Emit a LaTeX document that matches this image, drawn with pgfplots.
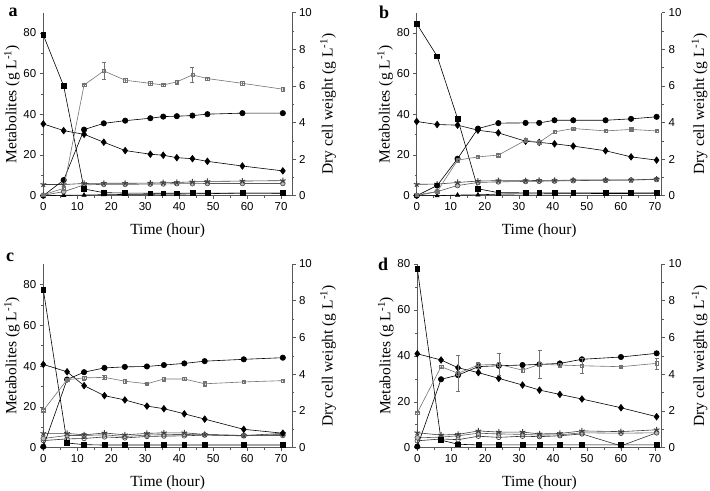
\documentclass[border=0pt]{standalone}
\usepackage{pgfplots}
\pgfplotsset{compat=1.18}
\usepackage{fontspec}
\setmainfont{Liberation Serif}
\newfontfamily\arialf{Liberation Sans}
\definecolor{ax}{gray}{0.35}
\definecolor{dc}{gray}{0.45}
\tikzset{pl/.style={font=\bfseries\fontsize{18bp}{18bp}\selectfont}}
\pgfplotsset{
 base/.style={scale only axis, anchor=south west, xmin=0, ymin=0,
   tick align=outside, major tick length=3.5bp, minor tick length=2bp,
   tick label style={font=\arialf\fontsize{11.5bp}{12bp}\selectfont, black},
   /pgf/number format/assume math mode=true,
   label style={font=\fontsize{15.5bp}{17bp}\selectfont},
   axis line style={ax, line width=0.6bp}, every tick/.style={ax, line width=0.5bp},
   clip=false},
 lft/.style={base, axis x line*=bottom, axis y line*=left,
   xtick={0,10,...,70}, minor x tick num=1, ytick={0,20,...,80}, minor y tick num=1,
   xlabel={Time (hour)}, ylabel={Metabolites (g L\textsuperscript{-1})},
   xlabel style={at={(axis description cs:0.5,-0.19)}, anchor=center},
   ylabel style={at={(axis description cs:#1,0.5)}, anchor=center, rotate=0}},
 rgt/.style={base, axis y line*=right, axis x line=none, ymax=10,
   ytick={0,2,...,10}, minor y tick num=1,
   ylabel={Dry cell weight (g L\textsuperscript{-1})},
   ylabel style={at={(axis description cs:#1,0.5)}, anchor=center}},
 glc/.style={black, line width=0.6bp, mark=square*, mark size=2.4bp},
 xyl/.style={black, line width=0.6bp, mark=diamond*, mark size=3.3bp},
 eth/.style={black, line width=0.6bp, mark=*, mark size=2.7bp},
 st/.style={black!75, line width=0.6bp, mark=star, mark size=3bp, mark options={line width=1bp}},
 gc/.style={black!65, line width=0.6bp, mark=*, mark size=2.4bp, mark options={fill=gray!55, draw=black!70}},
 tri/.style={black, line width=0.6bp, mark=triangle*, mark size=2.4bp},
 hx/.style={black!80, line width=0.6bp, mark=o, mark size=2.3bp},
 dcw/.style={dc, line width=0.6bp, mark=square, mark size=1.7bp, mark options={line width=0.5bp},
   error bars/y dir=both, error bars/y explicit,
   error bars/error bar style={dc, line width=0.5bp},
   error bars/error mark options={dc, rotate=90, mark size=2bp}}
}
\begin{document}
\begin{tikzpicture}
\useasboundingbox (0bp,0bp) rectangle (710bp,491bp);
% ---------------- panel a
\begin{axis}[lft=-0.126, at={(43.3bp,295.3bp)}, width=248.7bp, height=183bp, xmax=73.2, ymax=90]
\addplot[tri] coordinates {(0,0) (6,0.2) (12,0.3) (17.8,0.5) (24.1,0.6) (31.5,0.7) (35.3,0.8) (39.3,0.8) (43.9,0.9) (48.3,1.0) (58.6,1.3) (70.5,1.2)};
\addplot[gc] coordinates {(0,0.2) (6,2) (12,5.3) (17.8,5.6) (24.1,5.6) (31.5,5.7) (35.3,5.8) (39.3,5.9) (43.9,5.9) (48.3,6.0) (58.6,6.0) (70.5,6.0)};
\addplot[st] coordinates {(0,5.5) (6,5.5) (12,6) (17.8,6.1) (24.1,6.1) (31.5,6.2) (35.3,6.4) (39.3,6.5) (43.9,6.8) (48.3,7.0) (58.6,7.2) (70.5,7.4)};
\addplot[glc] coordinates {(0,79) (6,54) (12,3.3) (17.8,1.5) (24.1,1.3) (31.5,1.2) (35.3,1.2) (39.3,1.2) (43.9,1.3) (48.3,1.3) (58.6,1.3) (70.5,1.3)};
\addplot[xyl] coordinates {(0,35.3) (6,32) (12,30.2) (17.8,26.3) (24.1,22.2) (31.5,20.4) (35.3,19.9) (39.3,18.7) (43.9,18.2) (48.3,16.9) (58.6,14.6) (70.5,12.2)};
\addplot[eth] coordinates {(0,0) (6,7.7) (12,32.5) (17.8,35.6) (24.1,36.9) (31.5,38.1) (35.3,38.9) (39.3,39.1) (43.9,39.4) (48.3,40.1) (58.6,40.6) (70.5,40.6)};
\end{axis}
\begin{axis}[rgt=1.145, at={(43.3bp,295.3bp)}, width=248.7bp, height=183bp, xmax=73.2]
\addplot[dcw] table[x index=0, y index=1, y error index=2] {
0 0.05 0.02
6 0.4 0.05
12 6.05 0.05
17.8 6.82 0.46
24.1 6.31 0.1
31.5 6.14 0.1
35.3 6.05 0.05
39.3 6.22 0.1
43.9 6.6 0.4
48.3 6.4 0.1
58.6 6.14 0.1
70.5 5.82 0.1
};
\end{axis}
\node[pl] at (13bp,479bp) {a};
% ---------------- panel b
\begin{axis}[lft=-0.129, at={(416.7bp,295.3bp)}, width=245bp, height=183bp, xmax=72, ymax=90]
\addplot[tri] coordinates {(0,0) (6,0) (12,0.3) (18,0.4) (24,0.8) (32,0.9) (36,0.9) (40.5,1.0) (46,1.0) (55.5,1.1) (63,1.1) (70.5,1.2)};
\addplot[gc] coordinates {(0,0) (6,2) (12,5) (18,6.5) (24,6.8) (32,7) (36,7.1) (40.5,7.2) (46,7.4) (55.5,7.6) (63,7.7) (70.5,8)};
\addplot[st] coordinates {(0,5.6) (6,5.7) (12,6.5) (18,7.2) (24,7.4) (32,7.4) (36,7.5) (40.5,7.5) (46,7.7) (55.5,7.7) (63,7.7) (70.5,8.2)};
\addplot[glc] coordinates {(0,84.6) (6,68.6) (12,38) (18,3.4) (24,1.5) (32,1.4) (36,1.4) (40.5,1.4) (46,1.4) (55.5,1.4) (63,1.4) (70.5,1.4)};
\addplot[xyl] coordinates {(0,36.5) (6,35) (12,34.7) (18,32.2) (24,30.9) (32,26.8) (36,26.2) (40.5,25.5) (46,24.4) (55.5,22.1) (63,19.1) (70.5,17.5)};
\addplot[eth] coordinates {(0,0) (6,5) (12,18.2) (18,33) (24,35.7) (32,35.8) (36,35.8) (40.5,37.1) (46,37.1) (55.5,37.1) (63,37.8) (70.5,38.8)};
\end{axis}
\begin{axis}[rgt=1.155, at={(416.7bp,295.3bp)}, width=245bp, height=183bp, xmax=72]
\addplot[dcw] table[x index=0, y index=1, y error index=2] {
0 0.05 0.02
6 0.22 0.05
12 1.94 0.05
18 2.12 0.05
24 2.22 0.06
32 3.03 0.06
36 2.91 0.06
40.5 3.49 0.08
46 3.67 0.06
55.5 3.54 0.06
63 3.62 0.05
70.5 3.54 0.06
};
\end{axis}
\node[pl] at (384bp,479bp) {b};
% ---------------- panel c
\begin{axis}[lft=-0.126, at={(43.3bp,43.3bp)}, width=248.7bp, height=183.7bp, xmax=73.2, ymax=90]
\addplot[hx] coordinates {(0,3.5) (7,4.3) (12,4.5) (18,5.3) (24,4.8) (30.5,5.5) (35.5,5.7) (41.5,5.8) (47.5,6.2) (59,5.8) (70.5,6.5)};
\addplot[gc] coordinates {(0,4.5) (7,6) (12,6) (18,6.3) (24,5.5) (30.5,6.2) (35.5,6.4) (41.5,6.5) (47.5,6.3) (59,6) (70.5,6)};
\addplot[st] coordinates {(0,7) (7,7) (12,6.3) (18,7.2) (24,6.3) (30.5,7) (35.5,7.3) (41.5,7.3) (47.5,6.5) (59,6) (70.5,7)};
\addplot[glc] coordinates {(0,77.5) (7,2.3) (12,1.5) (18,1.3) (24,1.3) (30.5,1.3) (35.5,1.3) (41.5,1.3) (47.5,1.3) (59,1.3) (70.5,1.3)};
\addplot[xyl] coordinates {(0,40.8) (7,37.2) (12,30.4) (18,25.5) (24,23.4) (30.5,20.4) (35.5,19.1) (41.5,16.6) (47.5,14) (59,9) (70.5,7.1)};
\addplot[eth] coordinates {(0,0.5) (7,33.4) (12,37) (18,39.1) (24,39.6) (30.5,39.8) (35.5,40.5) (41.5,41.3) (47.5,42.4) (59,43.3) (70.5,44.1)};
\end{axis}
\begin{axis}[rgt=1.145, at={(43.3bp,43.3bp)}, width=248.7bp, height=183.7bp, xmax=73.2]
\addplot[dcw] table[x index=0, y index=1, y error index=2] {
0 2.03 0.05
7 3.7 0.05
12 3.8 0.1
18 3.83 0.12
24 3.62 0.1
30.5 3.48 0.05
35.5 3.74 0.1
41.5 3.74 0.08
47.5 3.48 0.12
59 3.58 0.06
70.5 3.65 0.08
};
\end{axis}
\node[pl] at (10bp,234bp) {c};
% ---------------- panel d
\begin{axis}[lft=-0.129, at={(417.3bp,43.3bp)}, width=244.4bp, height=183.7bp, xmax=72, ymax=80]
\addplot[hx] coordinates {(0,3) (7,3.8) (12,3.5) (18,5) (24,4.5) (31,5) (36,4.8) (42,5.2) (48.5,6) (60,0.8) (70.5,6.5)};
\addplot[gc] coordinates {(0,4.3) (7,4.6) (12,5.2) (18,6.3) (24,6) (31,5.8) (36,5.5) (42,5.6) (48.5,6.5) (60,6.3) (70.5,6.5)};
\addplot[st] coordinates {(0,6.5) (7,5.5) (12,5.8) (18,7.3) (24,6.8) (31,6.8) (36,6) (42,6.2) (48.5,7.3) (60,7) (70.5,7.8)};
\addplot[glc] coordinates {(0,78) (7,3.3) (12,1.5) (18,1.2) (24,1.2) (31,1.2) (36,1.2) (42,1.2) (48.5,1.2) (60,1.2) (70.5,1.2)};
\addplot[xyl] coordinates {(0,40.9) (7,38.2) (12,34.8) (18,32.7) (24,30.2) (31,27.3) (36,25.1) (42,23.2) (48.5,21.2) (60,17.4) (70.5,13.5)};
\addplot[eth] coordinates {(0,0.5) (7,29.8) (12,31.6) (18,35.3) (24,35.7) (31,36) (36,36.3) (42,36.7) (48.5,38.5) (60,39.5) (70.5,41.1)};
\end{axis}
\begin{axis}[rgt=1.155, at={(417.3bp,43.3bp)}, width=244.4bp, height=183.7bp, xmax=72]
\addplot[dcw] table[x index=0, y index=1, y error index=2] {
0 1.9 0.05
7 4.41 0.1
12 4.05 1.0
18 4.5 0.15
24 4.54 0.6
31 4.22 0.1
36 4.54 0.75
42 4.5 0.1
48.5 4.46 0.4
60 4.41 0.05
70.5 4.59 0.3
};
\end{axis}
\node[pl] at (383bp,227bp) {d};
\end{tikzpicture}
\end{document}
